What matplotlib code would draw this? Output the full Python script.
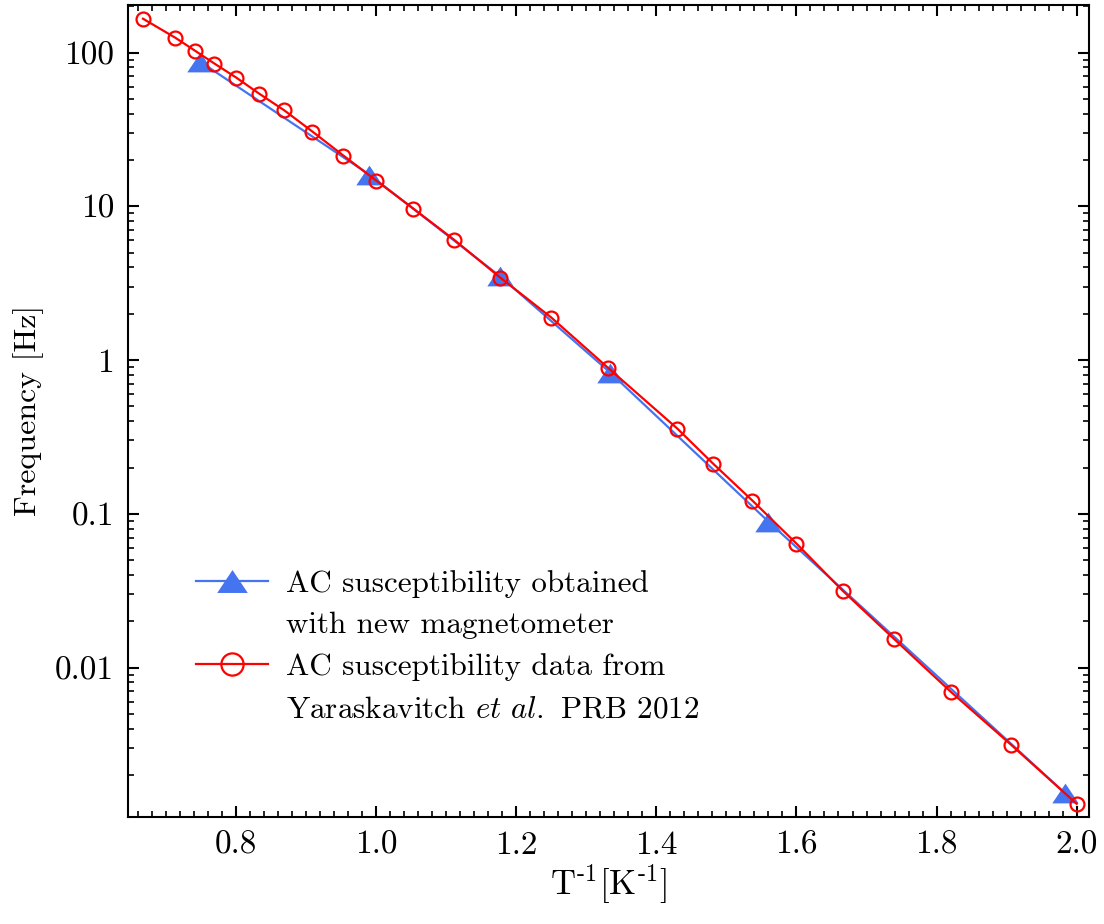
import numpy as np
import matplotlib
matplotlib.use('Agg')
import matplotlib.pyplot as plt
import matplotlib.ticker as ticker
from matplotlib.lines import Line2D

# data
inv_T_new = [0.749, 0.990, 1.177, 1.334, 1.560, 1.983]
freq_new = [87.0, 16.1, 3.5, 0.83, 0.089, 0.00153]

inv_T_prb = [0.667, 0.713, 0.741, 0.769, 0.800, 0.833, 0.869, 0.909, 0.953, 1.000,
             1.053, 1.111, 1.177, 1.250, 1.331, 1.430, 1.481, 1.537, 1.600, 1.666,
             1.739, 1.820, 1.906, 2.000]
freq_prb = [166.0, 125.0, 103.0, 84.8, 68.8, 54.0, 42.0, 30.6, 21.4, 14.7,
            9.66, 6.07, 3.44, 1.89, 0.89, 0.358, 0.212, 0.122, 0.064, 0.0316,
            0.0154, 0.00698, 0.00316, 0.0013]

label_new = ["AC susceptibility obtained", "with new magnetometer"]
label_prb = ["AC susceptibility data from", "Yaraskavitch $\\it{et\\ al.}$ PRB 2012"]
y_ticks = [0.01, 0.1, 1, 10, 100]
y_tick_labels = ["0.01", "0.1", "1", "10", "100"]

plt.rcParams['font.family'] = 'serif'
plt.rcParams['font.serif'] = ['cmr10']
plt.rcParams['mathtext.fontset'] = 'cm'
plt.rcParams['axes.unicode_minus'] = False
plt.rcParams['axes.formatter.use_mathtext'] = True

blue = '#4474F0'
red = '#FF0000'
# flatter triangle than the default '^'
tri = [(-1.0, -0.75), (1.0, -0.75), (0.0, 0.75), (-1.0, -0.75)]

fig = plt.figure(figsize=(11.04, 9.24), dpi=100)
ax = fig.add_axes([0.116, 0.116, 0.870, 0.879])

ax.plot(inv_T_new, freq_new, '-', marker=tri, color=blue, lw=1.6, ms=19,
        markeredgewidth=0)
ax.plot(inv_T_prb, freq_prb, '-o', color=red, lw=1.6, ms=10,
        markerfacecolor='none', markeredgewidth=1.6)

ax.set_yscale('log')
ax.set_xlim(0.6457, 2.017)
ax.set_ylim(0.00107, 205)

ax.xaxis.set_major_locator(ticker.MultipleLocator(0.2))
ax.xaxis.set_minor_locator(ticker.MultipleLocator(0.02))
ax.xaxis.set_major_formatter(ticker.FormatStrFormatter('%.1f'))
ax.set_yticks(y_ticks)
ax.set_yticklabels(y_tick_labels)
ax.yaxis.set_minor_locator(ticker.LogLocator(base=10, subs=np.arange(2, 10)))
ax.yaxis.set_minor_formatter(ticker.NullFormatter())

ax.tick_params(which='both', direction='in', top=True, right=True, labelsize=24)
ax.tick_params(which='major', length=8, width=1.5, pad=10)
ax.tick_params(which='minor', length=4, width=1.2)
for s in ax.spines.values():
    s.set_linewidth(1.5)

ax.set_xlabel(r'T$^{\text{-1}}$[K$^{\text{-1}}$]', fontsize=25, labelpad=2)
ax.set_ylabel('Frequency [Hz]', fontsize=23, labelpad=8)

# legend: marker on the first line of each two-line label
blank = Line2D([], [], linestyle='none', marker='none')
h_new = Line2D([], [], color=blue, lw=1.6, marker=tri, ms=22, markeredgewidth=0)
h_prb = Line2D([], [], color=red, lw=1.6, marker='o', ms=16,
               markerfacecolor='none', markeredgewidth=1.6)
ax.legend([h_new, blank, h_prb, blank],
          [label_new[0], label_new[1], label_prb[0], label_prb[1]],
          loc='lower left', bbox_to_anchor=(0.058, 0.10), frameon=False,
          fontsize=22.4, handlelength=2.3, handletextpad=0.6, labelspacing=0.45,
          borderaxespad=0)

fig.savefig('out.png', dpi=100)
